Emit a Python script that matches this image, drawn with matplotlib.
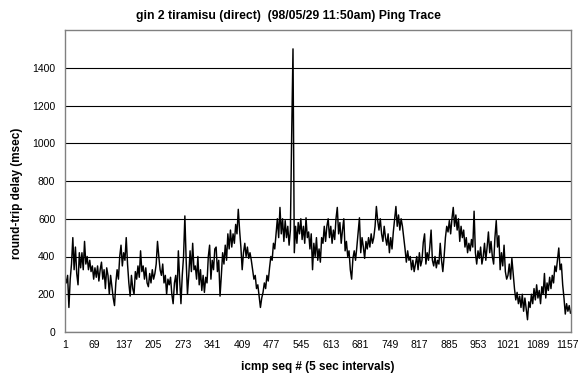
import numpy as np
import matplotlib
matplotlib.use('Agg')
import matplotlib.pyplot as plt

plt.rcParams['font.family'] = ['Liberation Sans', 'DejaVu Sans']

# round-trip delay (msec), every 3rd icmp seq (1, 4, 7, ...)
seq_step = 3
delay = [
    290, 260, 300, 130, 280, 360, 500, 330, 450, 310,
    250, 420, 340, 420, 330, 480, 360, 400, 330, 380,
    320, 350, 280, 340, 290, 350, 270, 330, 370, 280,
    330, 230, 340, 300, 200, 300, 240, 180, 140, 260,
    330, 280, 400, 460, 350, 420, 380, 500, 360, 260,
    190, 300, 230, 200, 320, 280, 350, 290, 430, 320,
    350, 280, 340, 260, 240, 310, 260, 330, 280, 310,
    360, 480, 400, 330, 300, 360, 260, 300, 200, 280,
    250, 290, 200, 150, 260, 300, 200, 430, 280, 150,
    300, 400, 615, 380, 200, 300, 430, 320, 470, 330,
    350, 280, 400, 250, 330, 220, 300, 210, 290, 260,
    400, 460, 280, 380, 330, 440, 450, 320, 380, 190,
    300, 420, 360, 460, 380, 520, 440, 540, 450, 520,
    470, 570, 520, 650, 540, 450, 330, 420, 470, 400,
    450, 390, 420, 380, 330, 280, 300, 230, 250, 190,
    130, 180, 210, 260, 230, 300, 270, 340, 400, 380,
    470, 440, 520, 600, 500, 660, 520, 600, 480, 590,
    500, 560, 460, 540, 1050, 1500, 420, 560, 470, 580,
    520, 600, 490, 560, 470, 605, 500, 530, 440, 520,
    330, 470, 400, 500, 380, 440, 370, 500, 470, 560,
    480, 560, 600, 500, 560, 470, 540, 490, 600, 660,
    520, 580, 470, 540, 600, 430, 480, 400, 430, 330,
    280, 390, 430, 380, 450, 530, 605, 420, 500, 450,
    390, 480, 440, 500, 450, 520, 470, 500, 560, 665,
    590, 540, 600, 520, 480, 560, 500, 460, 520, 420,
    500, 440, 530, 600, 665, 560, 620, 540, 600, 560,
    500, 440, 370, 430, 380, 400, 330, 380, 320, 360,
    400, 330, 420, 350, 380, 475, 520, 360, 420, 380,
    450, 540, 380, 350, 400, 340, 380, 360, 470, 380,
    320, 400, 500, 560, 530, 590, 520, 600, 660, 560,
    620, 540, 600, 480, 560, 500, 540, 450, 500, 420,
    470, 430, 490, 450, 640, 420, 360, 430, 390, 450,
    360, 400, 470, 380, 450, 530, 420, 480, 400, 360,
    500, 590, 450, 510, 330, 420, 350, 460, 320, 280,
    300, 360, 280, 390, 310, 230, 170, 210, 150, 190,
    130, 200, 110, 180, 120, 65, 160, 130, 200, 150,
    230, 170, 250, 180, 220, 150, 240, 200, 310, 180,
    260, 220, 290, 230, 300, 260, 350, 320, 380, 445,
    330, 360, 250, 180, 95, 150, 110, 140, 100,
]
seq = 1 + seq_step * np.arange(len(delay))

xticks = [1, 69, 137, 205, 273, 341, 409, 477, 545, 613, 681, 749, 817,
          885, 953, 1021, 1089, 1157]
yticks = [0, 200, 400, 600, 800, 1000, 1200, 1400]

fig = plt.figure(figsize=(5.85, 3.82), dpi=100)
ax = fig.add_axes([65 / 585, 50 / 382, 505.5 / 585, 302 / 382])

ax.plot(seq, delay, color='black', linewidth=1.05)

ax.set_xlim(1, seq[-1])
ax.set_ylim(0, 1600)
ax.set_xticks(xticks)
ax.set_yticks(yticks)
ax.tick_params(axis='both', labelsize=7.5, length=0)
ax.tick_params(axis='x', pad=6)
ax.tick_params(axis='y', pad=7)
ax.yaxis.grid(True, color='black', linewidth=0.8)
ax.set_axisbelow(True)
for s in ax.spines.values():
    s.set_color('#808080')
    s.set_linewidth(1.0)

ax.set_xlabel('icmp seq # (5 sec intervals)', fontsize=8.5, fontweight='bold')
ax.xaxis.set_label_coords(0.5, -0.116)
ax.xaxis.label.set_va('center')
ax.set_ylabel('round-trip delay (msec)', fontsize=8.5, fontweight='bold')
ax.yaxis.set_label_coords(-0.095, 0.459)
ax.yaxis.label.set_va('center')

fig.text(0.493, 0.959, 'gin 2 tiramisu (direct)  (98/05/29 11:50am) Ping Trace',
         fontsize=8.8, fontweight='bold', ha='center', va='center')

plt.savefig('out.png', dpi=100)
